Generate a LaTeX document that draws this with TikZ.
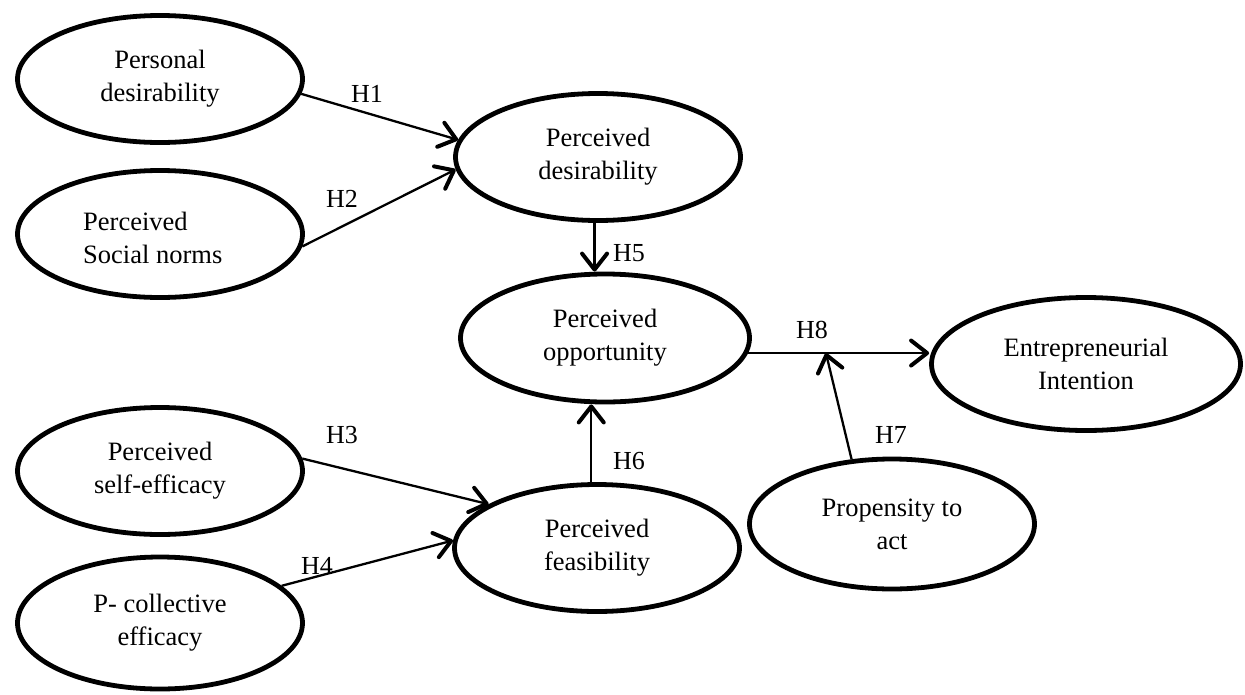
\documentclass[tikz,border=0pt]{standalone}
\usepackage{fontspec}
\setmainfont{Liberation Serif}
\usetikzlibrary{arrows.meta,shapes.geometric,calc}
\begin{document}
\begin{tikzpicture}[x=1pt,y=-1pt,
  construct/.style={ellipse,draw,line width=4.8pt,minimum width=285pt,minimum height=127pt,inner sep=0pt,align=center,font=\fontsize{26.5}{33}\selectfont},
  txt/.style={inner sep=0pt,font=\fontsize{26.5}{33}\selectfont},
  hyp/.style={inner sep=0pt,font=\fontsize{26}{30}\selectfont},
  arr/.style={line width=2.3pt,-{Straight Barb[length=16pt,width=25pt,line width=4pt,round]}}]
\useasboundingbox (0,0) rectangle (1245,694);
% constructs
\node[construct] (pdes) at (160,79) {Personal\\desirability};
\node[construct] (psn) at (160,234) {};
\node[txt,align=left,anchor=west] (psntxt) at (83,238) {Perceived\\Social norms};
\node[construct] (pdesir) at (598,157) {Perceived\\desirability};
\node[construct,minimum width=289pt,minimum height=128pt] (popp) at (605,338) {Perceived\\opportunity};
\node[construct] (pfeas) at (597,548) {Perceived\\feasibility};
\node[construct,minimum height=127pt] (pse) at (160,471) {Perceived\\self-efficacy};
\node[construct,minimum height=132pt] (pce) at (160,623) {P- collective\\efficacy};
\node[construct,minimum width=309pt,minimum height=133pt] (ei) at (1086,364) {Entrepreneurial\\Intention};
\node[construct,minimum height=130pt] (pta) at (892,524) {Propensity to\\act};
% connectors
\draw[arr] (pdes.-6) -- (pdesir.173);
\draw[arr] (psn.-5.5) -- (pdesir.-175);
\draw[arr] (pse.5) -- (pfeas.158);
\draw[arr] (pce.17) -- (pfeas.177);
\draw[arr] (pdesir.-93) -- (pdesir.-93 |- popp.north);
\draw[arr] (pfeas.95) -- (pfeas.95 |- popp.south);
\draw[arr] (popp.-6) -- coordinate[pos=0.43] (m) (popp.-6 -| ei.west);
\draw[arr] (pta.122) -- (m);
% hypothesis labels
\node[hyp] (h1) at (367,94) {H1};
\node[hyp] (h2) at (342,199) {H2};
\node[hyp] (h3) at (342,435) {H3};
\node[hyp] (h4) at (317,566) {H4};
\node[hyp] (h5) at (629,253) {H5};
\node[hyp] (h6) at (629,461) {H6};
\node[hyp] (h7) at (891,435) {H7};
\node[hyp] (h8) at (812,330) {H8};
\end{tikzpicture}
\end{document}
